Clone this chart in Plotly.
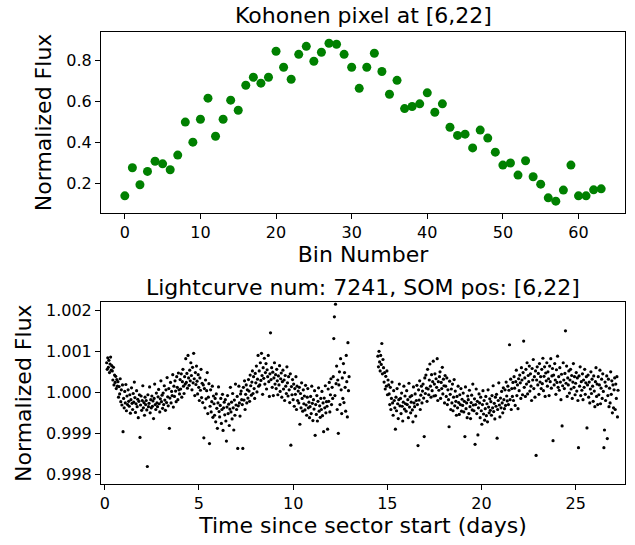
import plotly.graph_objects as go

# ---------------- Top panel: Kohonen pixel template ----------------
bin_number = [0, 1, 2, 3, 4, 5, 6, 7, 8, 9, 10, 11, 12, 13, 14, 15,
              16, 17, 18, 19, 20, 21, 22, 23, 24, 25, 26, 27, 28, 29, 30, 31,
              32, 33, 34, 35, 36, 37, 38, 39, 40, 41, 42, 43, 44, 45, 46, 47,
              48, 49, 50, 51, 52, 53, 54, 55, 56, 57, 58, 59, 60, 61, 62, 63]
kohonen_flux = [0.138, 0.275, 0.192, 0.257, 0.307, 0.294, 0.265, 0.337,
                0.498, 0.400, 0.512, 0.615, 0.429, 0.512, 0.605, 0.556,
                0.678, 0.717, 0.688, 0.717, 0.844, 0.766, 0.707, 0.829,
                0.868, 0.795, 0.839, 0.883, 0.878, 0.829, 0.766, 0.663,
                0.766, 0.834, 0.745, 0.634, 0.702, 0.564, 0.574, 0.587,
                0.641, 0.546, 0.587, 0.473, 0.433, 0.439, 0.372, 0.459,
                0.420, 0.351, 0.288, 0.298, 0.239, 0.309, 0.231, 0.195,
                0.128, 0.112, 0.166, 0.288, 0.138, 0.138, 0.167, 0.172]

# ---------------- Bottom panel: light curve ----------------
time_days = [
    0.10, 0.13, 0.16, 0.19, 0.22, 0.25, 0.28, 0.31, 0.34, 0.37,
    0.40, 0.43, 0.46, 0.49, 0.52, 0.55, 0.58, 0.61, 0.64, 0.67,
    0.70, 0.73, 0.76, 0.79, 0.82, 0.85, 0.88, 0.91, 0.94, 0.97,
    1.00, 1.03, 1.06, 1.09, 1.12, 1.15, 1.18, 1.21, 1.24, 1.27,
    1.30, 1.33, 1.36, 1.39, 1.42, 1.45, 1.48, 1.51, 1.54, 1.57,
    1.60, 1.63, 1.66, 1.69, 1.72, 1.75, 1.78, 1.81, 1.84, 1.87,
    1.90, 1.93, 1.96, 1.99, 2.02, 2.05, 2.08, 2.11, 2.14, 2.17,
    2.20, 2.23, 2.26, 2.29, 2.32, 2.35, 2.38, 2.41, 2.44, 2.47,
    2.50, 2.53, 2.56, 2.59, 2.62, 2.65, 2.68, 2.71, 2.74, 2.77,
    2.80, 2.83, 2.86, 2.89, 2.92, 2.95, 2.98, 3.01, 3.04, 3.07,
    3.10, 3.13, 3.16, 3.19, 3.22, 3.25, 3.28, 3.31, 3.34, 3.37,
    3.40, 3.43, 3.46, 3.49, 3.52, 3.55, 3.58, 3.61, 3.64, 3.67,
    3.70, 3.73, 3.76, 3.79, 3.82, 3.85, 3.88, 3.91, 3.94, 3.97,
    4.00, 4.03, 4.06, 4.09, 4.12, 4.15, 4.18, 4.21, 4.24, 4.27,
    4.30, 4.33, 4.36, 4.39, 4.42, 4.45, 4.48, 4.51, 4.54, 4.57,
    4.60, 4.63, 4.66, 4.69, 4.72, 4.75, 4.78, 4.81, 4.84, 4.87,
    4.90, 4.93, 4.96, 4.99, 5.02, 5.05, 5.08, 5.11, 5.14, 5.17,
    5.20, 5.23, 5.26, 5.29, 5.32, 5.35, 5.38, 5.41, 5.44, 5.47,
    5.50, 5.53, 5.56, 5.59, 5.62, 5.65, 5.68, 5.71, 5.74, 5.77,
    5.80, 5.83, 5.86, 5.89, 5.92, 5.95, 5.98, 6.01, 6.04, 6.07,
    6.10, 6.13, 6.16, 6.19, 6.22, 6.25, 6.28, 6.31, 6.34, 6.37,
    6.40, 6.43, 6.46, 6.49, 6.52, 6.55, 6.58, 6.61, 6.64, 6.67,
    6.70, 6.73, 6.76, 6.79, 6.82, 6.85, 6.88, 6.91, 6.94, 6.97,
    7.00, 7.03, 7.06, 7.09, 7.12, 7.15, 7.18, 7.21, 7.24, 7.27,
    7.30, 7.33, 7.36, 7.39, 7.42, 7.45, 7.48, 7.51, 7.54, 7.57,
    7.60, 7.63, 7.66, 7.69, 7.72, 7.75, 7.78, 7.81, 7.84, 7.87,
    7.90, 7.93, 7.96, 7.99, 8.02, 8.05, 8.08, 8.11, 8.14, 8.17,
    8.20, 8.23, 8.26, 8.29, 8.32, 8.35, 8.38, 8.41, 8.44, 8.47,
    8.50, 8.53, 8.56, 8.59, 8.62, 8.65, 8.68, 8.71, 8.74, 8.77,
    8.80, 8.83, 8.86, 8.89, 8.92, 8.95, 8.98, 9.01, 9.04, 9.07,
    9.10, 9.13, 9.16, 9.19, 9.22, 9.25, 9.28, 9.31, 9.34, 9.37,
    9.40, 9.43, 9.46, 9.49, 9.52, 9.55, 9.58, 9.61, 9.64, 9.67,
    9.70, 9.73, 9.76, 9.79, 9.82, 9.85, 9.88, 9.91, 9.94, 9.97,
    10.00, 10.03, 10.06, 10.09, 10.12, 10.15, 10.18, 10.21, 10.24, 10.27,
    10.30, 10.33, 10.36, 10.39, 10.42, 10.45, 10.48, 10.51, 10.54, 10.57,
    10.60, 10.63, 10.66, 10.69, 10.72, 10.75, 10.78, 10.81, 10.84, 10.87,
    10.90, 10.93, 10.96, 10.99, 11.02, 11.05, 11.08, 11.11, 11.14, 11.17,
    11.20, 11.23, 11.26, 11.29, 11.32, 11.35, 11.38, 11.41, 11.44, 11.47,
    11.50, 11.53, 11.56, 11.59, 11.62, 11.65, 11.68, 11.71, 11.74, 11.77,
    11.80, 11.83, 11.86, 11.89, 11.92, 11.95, 11.98, 12.01, 12.04, 12.07,
    12.10, 12.13, 12.16, 12.19, 12.22, 12.25, 12.28, 12.31, 12.34, 12.37,
    12.40, 12.43, 12.46, 12.49, 12.52, 12.55, 12.58, 12.61, 12.64, 12.67,
    12.70, 12.73, 12.76, 12.79, 12.82, 12.85, 12.88, 12.91, 12.94, 12.97,
    14.50, 14.53, 14.56, 14.59, 14.62, 14.65, 14.68, 14.71, 14.74, 14.77,
    14.80, 14.83, 14.86, 14.89, 14.92, 14.95, 14.98, 15.01, 15.04, 15.07,
    15.10, 15.13, 15.16, 15.19, 15.22, 15.25, 15.28, 15.31, 15.34, 15.37,
    15.40, 15.43, 15.46, 15.49, 15.52, 15.55, 15.58, 15.61, 15.64, 15.67,
    15.70, 15.73, 15.76, 15.79, 15.82, 15.85, 15.88, 15.91, 15.94, 15.97,
    16.00, 16.03, 16.06, 16.09, 16.12, 16.15, 16.18, 16.21, 16.24, 16.27,
    16.30, 16.33, 16.36, 16.39, 16.42, 16.45, 16.48, 16.51, 16.54, 16.57,
    16.60, 16.63, 16.66, 16.69, 16.72, 16.75, 16.78, 16.81, 16.84, 16.87,
    16.90, 16.93, 16.96, 16.99, 17.02, 17.05, 17.08, 17.11, 17.14, 17.17,
    17.20, 17.23, 17.26, 17.29, 17.32, 17.35, 17.38, 17.41, 17.44, 17.47,
    17.50, 17.53, 17.56, 17.59, 17.62, 17.65, 17.68, 17.71, 17.74, 17.77,
    17.80, 17.83, 17.86, 17.89, 17.92, 17.95, 17.98, 18.01, 18.04, 18.07,
    18.10, 18.13, 18.16, 18.19, 18.22, 18.25, 18.28, 18.31, 18.34, 18.37,
    18.40, 18.43, 18.46, 18.49, 18.52, 18.55, 18.58, 18.61, 18.64, 18.67,
    18.70, 18.73, 18.76, 18.79, 18.82, 18.85, 18.88, 18.91, 18.94, 18.97,
    19.00, 19.03, 19.06, 19.09, 19.12, 19.15, 19.18, 19.21, 19.24, 19.27,
    19.30, 19.33, 19.36, 19.39, 19.42, 19.45, 19.48, 19.51, 19.54, 19.57,
    19.60, 19.63, 19.66, 19.69, 19.72, 19.75, 19.78, 19.81, 19.84, 19.87,
    19.90, 19.93, 19.96, 19.99, 20.02, 20.05, 20.08, 20.11, 20.14, 20.17,
    20.20, 20.23, 20.26, 20.29, 20.32, 20.35, 20.38, 20.41, 20.44, 20.47,
    20.50, 20.53, 20.56, 20.59, 20.62, 20.65, 20.68, 20.71, 20.74, 20.77,
    20.80, 20.83, 20.86, 20.89, 20.92, 20.95, 20.98, 21.01, 21.04, 21.07,
    21.10, 21.13, 21.16, 21.19, 21.22, 21.25, 21.28, 21.31, 21.34, 21.37,
    21.40, 21.43, 21.46, 21.49, 21.52, 21.55, 21.58, 21.61, 21.64, 21.67,
    21.70, 21.73, 21.76, 21.79, 21.82, 21.85, 21.88, 21.91, 21.94, 21.97,
    22.00, 22.03, 22.06, 22.09, 22.12, 22.15, 22.18, 22.21, 22.24, 22.27,
    22.30, 22.33, 22.36, 22.39, 22.42, 22.45, 22.48, 22.51, 22.54, 22.57,
    22.60, 22.63, 22.66, 22.69, 22.72, 22.75, 22.78, 22.81, 22.84, 22.87,
    22.90, 22.93, 22.96, 22.99, 23.02, 23.05, 23.08, 23.11, 23.14, 23.17,
    23.20, 23.23, 23.26, 23.29, 23.32, 23.35, 23.38, 23.41, 23.44, 23.47,
    23.50, 23.53, 23.56, 23.59, 23.62, 23.65, 23.68, 23.71, 23.74, 23.77,
    23.80, 23.83, 23.86, 23.89, 23.92, 23.95, 23.98, 24.01, 24.04, 24.07,
    24.10, 24.13, 24.16, 24.19, 24.22, 24.25, 24.28, 24.31, 24.34, 24.37,
    24.40, 24.43, 24.46, 24.49, 24.52, 24.55, 24.58, 24.61, 24.64, 24.67,
    24.70, 24.73, 24.76, 24.79, 24.82, 24.85, 24.88, 24.91, 24.94, 24.97,
    25.00, 25.03, 25.06, 25.09, 25.12, 25.15, 25.18, 25.21, 25.24, 25.27,
    25.30, 25.33, 25.36, 25.39, 25.42, 25.45, 25.48, 25.51, 25.54, 25.57,
    25.60, 25.63, 25.66, 25.69, 25.72, 25.75, 25.78, 25.81, 25.84, 25.87,
    25.90, 25.93, 25.96, 25.99, 26.02, 26.05, 26.08, 26.11, 26.14, 26.17,
    26.20, 26.23, 26.26, 26.29, 26.32, 26.35, 26.38, 26.41, 26.44, 26.47,
    26.50, 26.53, 26.56, 26.59, 26.62, 26.65, 26.68, 26.71, 26.74, 26.77,
    26.80, 26.83, 26.86, 26.89, 26.92, 26.95, 26.98, 27.01, 27.04, 27.07,
    27.10, 27.13, 27.16, 27.19, 27.22, 27.25,
]

# flux deviation from 1.0, in parts per million
flux_ppm = [
    720, 560, 840, 610, 780, 480, 690, 860, 540, 650,
    520, 300, 610, 180, 420, 240, 390, 90, 310, 150,
    260, -120, 140, -40, 330, -230, 60, -310, 180, -960,
    -150, -380, 20, -260, 190, -450, -90, -300, 60, -220,
    -340, -60, -510, -180, 110, -270, -420, -30, -240, 250,
    -130, -490, -280, 40, -350, -170, -620, -220, -60, -1100,
    -310, -90, -440, -200, 160, -380, -250, -560, -120, -300,
    -200, -430, -1810, -60, -350, -270, 130, -500, -180, -380,
    -90, -340, -210, -640, -150, 200, -300, -420, -20, -260,
    -350, -110, 70, -280, -480, -160, 280, -230, -70, -390,
    -20, -300, 160, -190, -440, 60, -250, 360, -110, -330,
    90, -880, -140, 240, -260, 20, -80, 430, -360, 150,
    -100, 280, 30, -230, 380, 120, -180, 470, 60, -40,
    310, 80, 450, -120, 260, 560, 150, -30, 380, 200,
    820, 240, 460, 100, 900, 350, 170, 540, 280, 720,
    410, 60, 610, 230, 950, 330, -80, 480, 190, 640,
    270, -40, 430, 120, -200, 350, 50, 560, -130, 220,
    -250, 180, -1110, 90, -380, 300, -160, 40, 480, -520,
    -120, 210, -1250, -340, 60, -480, -230, 150, -610, -90,
    -280, -560, -150, -720, -40, -390, -880, -260, 130, -470,
    -600, -320, -150, -760, -420, -50, -930, -380, -240, -550,
    -180, -700, -1190, -360, -80, -520, -290, -810, -410, 120,
    -480, -240, -650, -30, -380, -920, -190, -560, 200, -310,
    -420, -100, -1370, -330, 150, -260, -580, -40, 30, -180,
    -300, -1370, 120, -190, 280, -420, -50, 180, -260, 60,
    -140, 310, 30, -220, 420, 160, -70, 250, 520, -30,
    380, 90, -150, 460, 230, 640, 10, 320, 900, 150,
    520, 180, 720, 290, 950, 410, -50, 600, 340, 830,
    200, 480, 700, 80, 550, 380, 900, 260, -100, 450,
    1450, 310, 600, 120, 490, -80, 350, 720, 200, 430,
    90, 560, 280, -60, 400, 180, 650, 20, 330, 470,
    -120, 260, 540, 80, 300, -200, 410, 150, -30, 620,
    230, -90, 380, 60, -250, 450, -1290, 140, -60, 310,
    -180, 200, -340, 90, -50, 380, -420, 150, -200, 30,
    -260, 120, -780, -30, -380, 230, -150, -460, 60, -280,
    -90, -430, 170, -310, -560, -120, 90, -380, -240, -620,
    -350, -100, -520, 150, -270, -690, -180, -410, 40, -1050,
    -300, -540, -80, -700, -220, 110, -460, -330, -610, -150,
    -420, 20, -570, -260, -960, -140, -380, 160, -500, -230,
    -340, -900, 80, -220, 240, -480, -60, 330, -300, 120,
    -150, 380, 1310, 1840, -80, 2150, 210, 640, -420, 300,
    -1000, 180, 500, -300, 820, 60, -520, 350, -150, 700,
    -250, 480, 120, -460, 900, 260, -600, 1210, 40, 380,
    880, 620, 1000, 740, 520, 900, 680, 1190, 450, 800,
    600, 250, 480, 80, 390, 150, 520, -60, 300, 180,
    -40, -300, 120, -420, -150, 250, -260, -560, 40, -200,
    -380, -900, -120, -450, 90, -280, -640, -180, 200, -330,
    -150, -520, -20, -340, -700, -240, 150, -410, -90, -280,
    -460, 40, -300, -180, -620, 220, -360, -110, -500, -240,
    -80, -430, -720, 130, -260, -350, -40, -580, -200, 170,
    -300, -1300, 60, -190, 280, -420, -70, 150, -260, 30,
    200, -140, -1080, 350, -30, 420, 100, -220, 560, 80,
    -60, 300, 690, 150, -120, 430, 40, 260, 760, -90,
    200, 450, -80, 330, 120, 820, -200, 260, 50, 380,
    500, -150, 240, 90, 610, -40, 320, 160, -260, 410,
    150, -100, 350, -300, 60, -180, -840, 270, -50, -420,
    80, -260, 200, -450, -120, 310, -330, 30, -220, -560,
    -100, -380, 150, -250, -540, -60, -300, 90, -460, -170,
    -320, -20, -480, -220, -1080, 130, -400, -260, -620, -90,
    -180, -520, 50, -350, -640, -250, -70, -430, 200, -310,
    -450, -160, -1270, -300, 80, -520, -220, -1040, -380, -40,
    -260, -620, -120, -450, -780, -300, 40, -530, -200, -680,
    -400, -100, -570, -280, -720, 60, -360, -500, -160, -440,
    -230, -560, -80, -380, 160, -470, -270, -650, -120, -340,
    -50, -1120, -420, -200, 230, -310, -600, -140, -380, 20,
    -260, -500, 110, -180, -400, 60, -320, 250, -90, -210,
    150, -300, 50, 1160, -180, 320, -420, 90, -100, 240,
    -200, 380, 100, -320, 260, 540, -80, 180, -400, 330,
    40, 420, 230, -150, 600, 300, -60, 480, 1250, 120,
    350, -100, 560, 200, 720, -40, 410, 260, 640, 30,
    450, 150, -200, 580, 300, 800, 90, 380, -120, 520,
    -1540, 300, 620, 180, 460, -50, 700, 250, 380, 90,
    560, 210, 830, 40, 390, 620, -100, 470, 280, 720,
    150, 500, 330, -80, 640, 260, 820, 100, 400, 580,
    -1180, 420, 180, 700, 300, -50, 550, 240, 880, 120,
    380, 50, 600, 250, -180, 440, -820, 160, 720, 300,
    90, 460, 1500, 220, 640, -100, 350, 180, 520, -20,
    300, 560, 80, 410, -150, 250, 700, 120, 380, -60,
    220, 480, 30, 350, -200, -1350, 400, 150, 620, -80,
    260, 50, 450, -180, 300, 120, 560, -50, 230, 380,
    -870, 180, 420, -120, 250, -260, 80, 500, -30, 320,
    150, -220, 400, 30, -350, 260, 600, -100, 200, -300,
    380, -60, 180, 540, -280, 100, 320, -150, 450, 20,
    -1350, -920, 250, -200, 150, 400, -1130, -80, 320, -350,
    100, -260, 500, -50, 280, -500, 180, -380, 60, 350,
    -420, 200, -150, 380, -600, 50,
]

n_pts = min(len(time_days), len(flux_ppm))
lc_time = time_days[:n_pts]
lc_flux = [1.0 + p * 1e-6 for p in flux_ppm[:n_pts]]

top_xticks = [0, 10, 20, 30, 40, 50, 60]
top_yticks = [0.2, 0.4, 0.6, 0.8]
bot_xticks = [0, 5, 10, 15, 20, 25]
bot_yticks = [0.998, 0.999, 1.000, 1.001, 1.002]
bot_yticktext = ["0.998", "0.999", "1.000", "1.001", "1.002"]

title_top = "Kohonen pixel at [6,22]"
title_bottom = "Lightcurve num: 7241, SOM pos: [6,22]"

FONT = "DejaVu Sans"

fig = go.Figure()
fig.add_trace(go.Scatter(
    x=bin_number, y=kohonen_flux, mode="markers",
    marker=dict(color="#008000", size=9, line=dict(width=0)),
    xaxis="x", yaxis="y", showlegend=False))
fig.add_trace(go.Scatter(
    x=lc_time, y=lc_flux, mode="markers",
    marker=dict(color="black", size=3.2, line=dict(width=0)),
    xaxis="x2", yaxis="y2", showlegend=False))

axis_common = dict(
    showline=True, mirror=True, linecolor="black", linewidth=1,
    ticks="outside", ticklen=5, tickwidth=1, tickcolor="black",
    showgrid=False, zeroline=False, automargin=False,
    tickfont=dict(family=FONT, size=16, color="black"),
)

fig.update_layout(
    width=635, height=545,
    margin=dict(l=101, r=10, t=32, b=61, autoexpand=False),
    paper_bgcolor="white", plot_bgcolor="white",
    font=dict(family=FONT, color="black"),
    xaxis=dict(domain=[0, 1], anchor="y", range=[-3.15, 66.15],
               tickvals=top_xticks,
               title=dict(text="Bin Number", font=dict(family=FONT, size=22), standoff=3),
               **axis_common),
    yaxis=dict(domain=[0.6, 1.0], anchor="x", range=[0.055, 0.938],
               tickvals=top_yticks, ticktext=["0.2", "0.4", "0.6", "0.8"],
               title=dict(text="Normalized Flux", font=dict(family=FONT, size=22), standoff=8),
               **axis_common),
    xaxis2=dict(domain=[0, 1], anchor="y2", range=[-0.2, 27.62],
                tickvals=bot_xticks,
                title=dict(text="Time since sector start (days)", font=dict(family=FONT, size=22), standoff=1),
                **axis_common),
    yaxis2=dict(domain=[0, 0.402], anchor="x2", range=[0.997763, 1.002195],
                tickvals=bot_yticks, ticktext=bot_yticktext,
                title=dict(text="Normalized Flux", font=dict(family=FONT, size=22), standoff=8),
                **axis_common),
    annotations=[
        dict(text=title_top, x=0.5, y=1.0376, xref="paper", yref="paper",
             xanchor="center", yanchor="middle", showarrow=False,
             font=dict(family=FONT, size=22, color="black")),
        dict(text=title_bottom, x=0.5, y=0.4358, xref="paper", yref="paper",
             xanchor="center", yanchor="middle", showarrow=False,
             font=dict(family=FONT, size=22, color="black")),
    ],
)

fig.write_html("out.html",
               config={"displayModeBar": False, "staticPlot": True},
               post_script="document.body.style.margin='0';document.body.style.overflow='hidden';")
